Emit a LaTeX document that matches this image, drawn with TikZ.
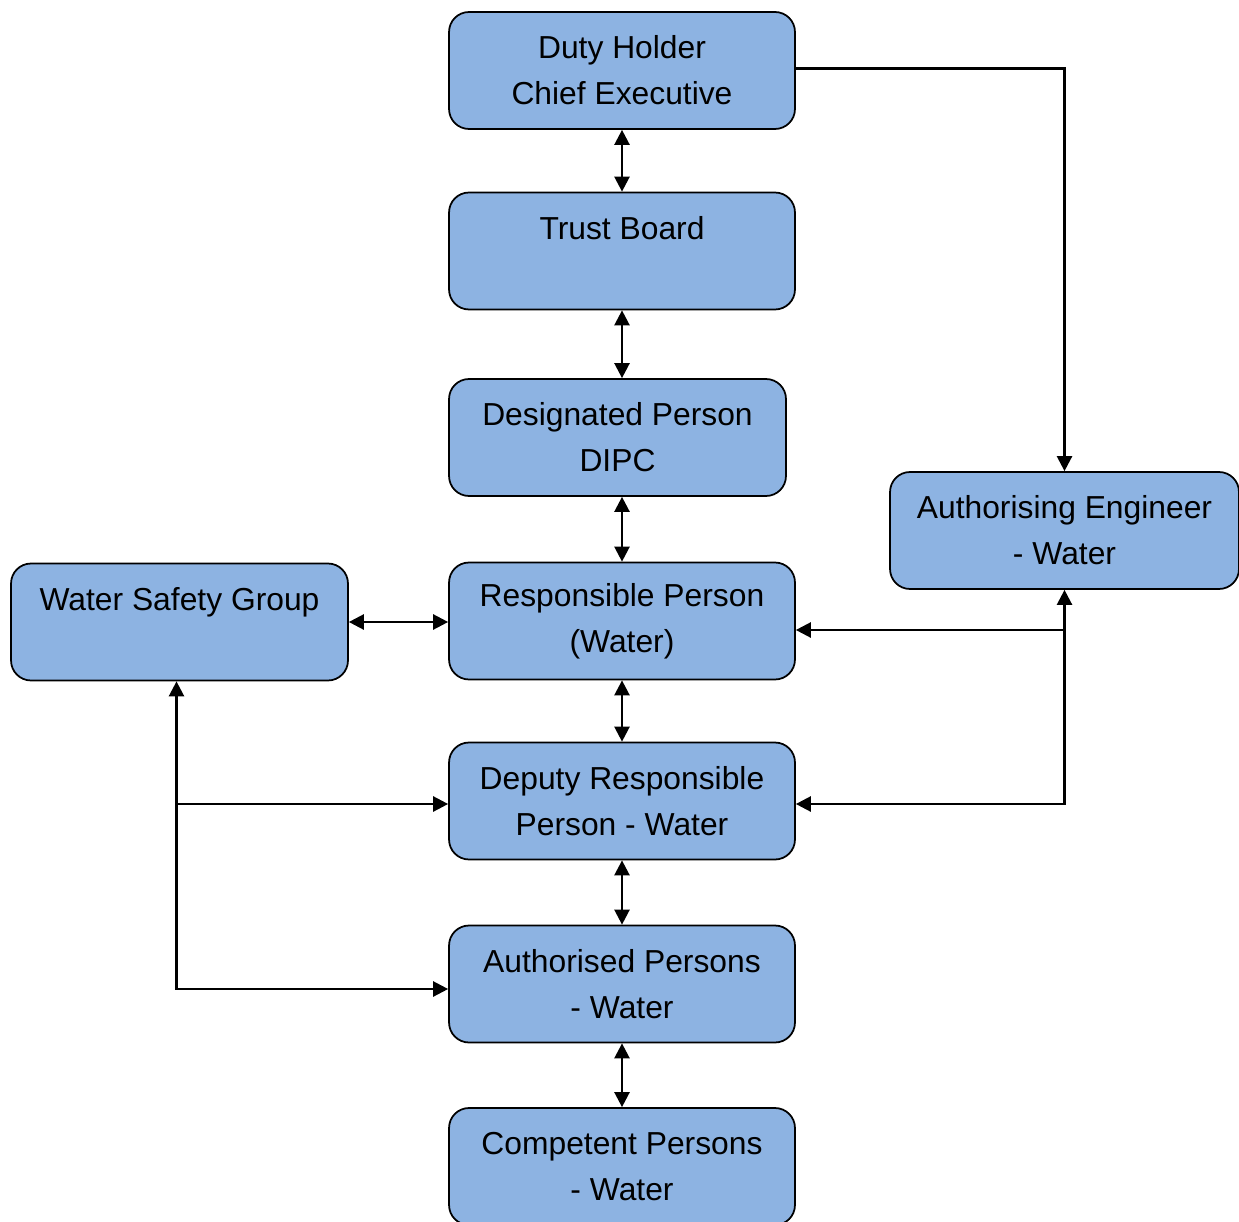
\documentclass[tikz,border=0pt]{standalone}
\usepackage{fontspec}
\setmainfont{Liberation Sans}
\usepackage{tikz}
\usetikzlibrary{arrows.meta,positioning,calc}
\definecolor{postblue}{RGB}{141,179,226}

\begin{document}
\begin{tikzpicture}[x=0.02cm,y=-0.02cm,
    >={Triangle[length=0.3cm,width=0.3cm]},
    post/.style={draw=black,line width=1pt,fill=postblue,rounded corners=0.4cm,
                 minimum width=6.92cm,minimum height=2.34cm,align=center,
                 font=\fontsize{18.1}{26.2}\selectfont},
    link/.style={line width=1.4pt}]
  \useasboundingbox (0,0) rectangle (1239,1222);

  \node[post] (duty) at (622,70.5) {Duty Holder\\Chief Executive};
  \node[post] (trust) at (622,251) {Trust Board\\\mbox{}};
  \node[post,minimum width=6.74cm] (desig) at (617.5,437.5) {Designated Person\\DIPC};
  \node[post] (resp) at (622,621) {Responsible Person\\(Water)};
  \node[post] (dep) at (622,801) {Deputy Responsible\\Person - Water};
  \node[post] (auth) at (622,984) {Authorised Persons\\- Water};
  \node[post] (comp) at (622,1166.5) {Competent Persons\\- Water};

  \node[post,minimum width=6.74cm] (wsg) at (179.5,622) {Water Safety Group\\\mbox{}};
  \node[post,minimum width=6.98cm] (ae) at (1064.5,530.5) {Authorising Engineer\\- Water};

  \draw[link,<->] (duty) -- (trust);
  \draw[link,<->] (trust.south) -- (trust.south |- desig.north);
  \draw[link,<->] (resp.north |- desig.south) -- (resp.north);
  \draw[link,<->] (resp) -- (dep);
  \draw[link,<->] (dep) -- (auth);
  \draw[link,<->] (auth) -- (comp);
  \draw[link,<->] (wsg.east) -- (wsg.east -| resp.west);

  \draw[link,->] ($(duty.east)+(0,-2)$) -| (ae.north);
  \draw[link,<->] (ae.south) |- ($(dep.east)+(0,3)$);
  \coordinate (aejoin) at ($(ae.south |- resp.east)+(0,9)$);
  \draw[link,->] (aejoin) -- (aejoin -| resp.east);

  \coordinate (wsgfoot) at ($(wsg.south)+(-3,0)$);
  \draw[link,<->] (wsgfoot) |- ($(auth.west)+(0,5)$);
  \draw[link,->] ($(wsgfoot |- dep.west)+(0,3)$) -- ($(dep.west)+(0,3)$);
\end{tikzpicture}
\end{document}
